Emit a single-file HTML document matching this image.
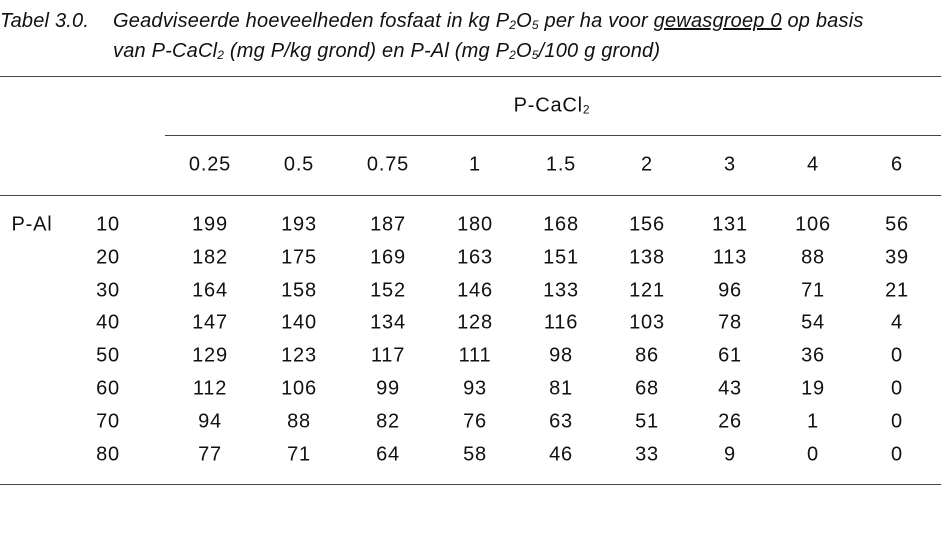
<!DOCTYPE html>
<html><head><meta charset="utf-8"><style>
body{margin:0;width:941px;height:533px;background:#fff;position:relative;overflow:hidden;font-family:"Liberation Sans",sans-serif;color:#111}
.t{position:absolute;font-size:20px;font-style:italic;white-space:nowrap;letter-spacing:0.2px}
.c{position:absolute;font-size:20px;transform:translate(-50%,-50%);white-space:nowrap;letter-spacing:0.8px}
.r{position:absolute;height:1px;background:#444}
sub{font-size:12px;vertical-align:-2px}
</style></head><body>
<div class="t" style="left:0;top:10px">Tabel 3.0.</div>
<div class="t" style="left:113px;top:10px">Geadviseerde hoeveelheden fosfaat in kg P<sub>2</sub>O<sub>5</sub> per ha voor <u>gewasgroep 0</u> op basis</div>
<div class="t" style="left:113px;top:40px">van P-CaCl<sub>2</sub> (mg P/kg grond) en P-Al (mg P<sub>2</sub>O<sub>5</sub>/100 g grond)</div>
<div class="r" style="left:0;width:941px;top:76px"></div>
<div class="r" style="left:165px;width:776px;top:135px"></div>
<div class="r" style="left:0;width:941px;top:195px"></div>
<div class="r" style="left:0;width:941px;top:484px"></div>
<div class="c" style="left:552px;top:106px">P-CaCl<sub>2</sub></div>
<div class="c" style="left:210px;top:165px">0.25</div><div class="c" style="left:299px;top:165px">0.5</div><div class="c" style="left:388px;top:165px">0.75</div><div class="c" style="left:475px;top:165px">1</div><div class="c" style="left:561px;top:165px">1.5</div><div class="c" style="left:647px;top:165px">2</div><div class="c" style="left:730px;top:165px">3</div><div class="c" style="left:813px;top:165px">4</div><div class="c" style="left:897px;top:165px">6</div>
<div class="c" style="left:32px;top:225px">P-Al</div>
<div class="c" style="left:108px;top:225px">10</div><div class="c" style="left:210px;top:225px">199</div><div class="c" style="left:299px;top:225px">193</div><div class="c" style="left:388px;top:225px">187</div><div class="c" style="left:475px;top:225px">180</div><div class="c" style="left:561px;top:225px">168</div><div class="c" style="left:647px;top:225px">156</div><div class="c" style="left:730px;top:225px">131</div><div class="c" style="left:813px;top:225px">106</div><div class="c" style="left:897px;top:225px">56</div>
<div class="c" style="left:108px;top:258px">20</div><div class="c" style="left:210px;top:258px">182</div><div class="c" style="left:299px;top:258px">175</div><div class="c" style="left:388px;top:258px">169</div><div class="c" style="left:475px;top:258px">163</div><div class="c" style="left:561px;top:258px">151</div><div class="c" style="left:647px;top:258px">138</div><div class="c" style="left:730px;top:258px">113</div><div class="c" style="left:813px;top:258px">88</div><div class="c" style="left:897px;top:258px">39</div>
<div class="c" style="left:108px;top:291px">30</div><div class="c" style="left:210px;top:291px">164</div><div class="c" style="left:299px;top:291px">158</div><div class="c" style="left:388px;top:291px">152</div><div class="c" style="left:475px;top:291px">146</div><div class="c" style="left:561px;top:291px">133</div><div class="c" style="left:647px;top:291px">121</div><div class="c" style="left:730px;top:291px">96</div><div class="c" style="left:813px;top:291px">71</div><div class="c" style="left:897px;top:291px">21</div>
<div class="c" style="left:108px;top:323px">40</div><div class="c" style="left:210px;top:323px">147</div><div class="c" style="left:299px;top:323px">140</div><div class="c" style="left:388px;top:323px">134</div><div class="c" style="left:475px;top:323px">128</div><div class="c" style="left:561px;top:323px">116</div><div class="c" style="left:647px;top:323px">103</div><div class="c" style="left:730px;top:323px">78</div><div class="c" style="left:813px;top:323px">54</div><div class="c" style="left:897px;top:323px">4</div>
<div class="c" style="left:108px;top:356px">50</div><div class="c" style="left:210px;top:356px">129</div><div class="c" style="left:299px;top:356px">123</div><div class="c" style="left:388px;top:356px">117</div><div class="c" style="left:475px;top:356px">111</div><div class="c" style="left:561px;top:356px">98</div><div class="c" style="left:647px;top:356px">86</div><div class="c" style="left:730px;top:356px">61</div><div class="c" style="left:813px;top:356px">36</div><div class="c" style="left:897px;top:356px">0</div>
<div class="c" style="left:108px;top:389px">60</div><div class="c" style="left:210px;top:389px">112</div><div class="c" style="left:299px;top:389px">106</div><div class="c" style="left:388px;top:389px">99</div><div class="c" style="left:475px;top:389px">93</div><div class="c" style="left:561px;top:389px">81</div><div class="c" style="left:647px;top:389px">68</div><div class="c" style="left:730px;top:389px">43</div><div class="c" style="left:813px;top:389px">19</div><div class="c" style="left:897px;top:389px">0</div>
<div class="c" style="left:108px;top:422px">70</div><div class="c" style="left:210px;top:422px">94</div><div class="c" style="left:299px;top:422px">88</div><div class="c" style="left:388px;top:422px">82</div><div class="c" style="left:475px;top:422px">76</div><div class="c" style="left:561px;top:422px">63</div><div class="c" style="left:647px;top:422px">51</div><div class="c" style="left:730px;top:422px">26</div><div class="c" style="left:813px;top:422px">1</div><div class="c" style="left:897px;top:422px">0</div>
<div class="c" style="left:108px;top:455px">80</div><div class="c" style="left:210px;top:455px">77</div><div class="c" style="left:299px;top:455px">71</div><div class="c" style="left:388px;top:455px">64</div><div class="c" style="left:475px;top:455px">58</div><div class="c" style="left:561px;top:455px">46</div><div class="c" style="left:647px;top:455px">33</div><div class="c" style="left:730px;top:455px">9</div><div class="c" style="left:813px;top:455px">0</div><div class="c" style="left:897px;top:455px">0</div>
</body></html>
